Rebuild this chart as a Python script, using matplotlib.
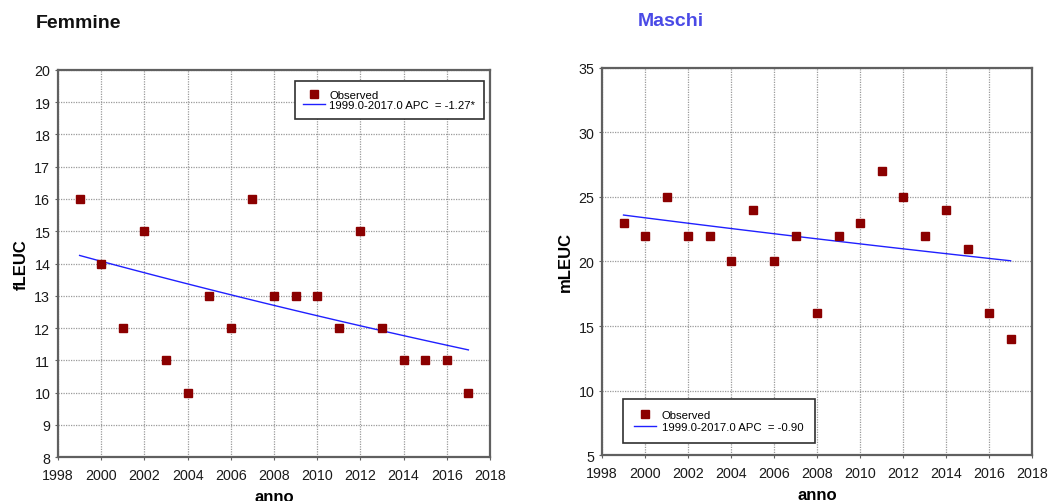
import matplotlib
matplotlib.use("Agg")
import matplotlib.pyplot as plt
import numpy as np

plt.rcParams['font.family'] = ['Liberation Sans', 'DejaVu Sans']

years = [1999, 2000, 2001, 2002, 2003, 2004, 2005, 2006, 2007, 2008,
         2009, 2010, 2011, 2012, 2013, 2014, 2015, 2016, 2017]
female = [16, 14, 12, 15, 11, 10, 13, 12, 16, 13, 13, 13, 12, 15, 12, 11, 11, 11, 10]
male = [23, 22, 25, 22, 22, 20, 24, 20, 22, 16, 22, 23, 27, 25, 22, 24, 21, 16, 14]

# fitted joinpoint model: start value at 1999 and annual percent change
female_fit_start, female_apc = 14.25, -1.27
male_fit_start, male_apc = 23.6, -0.90

female_label = "1999.0-2017.0 APC  = -1.27*"
male_label = "1999.0-2017.0 APC  = -0.90"

xticks = list(range(1998, 2019, 2))
female_yticks = list(range(8, 21))
male_yticks = list(range(5, 36, 5))

fig = plt.figure(figsize=(10.49, 5.02), dpi=100)
legend_font = {'family': ['Liberation Sans', 'DejaVu Sans'], 'size': 8.2}

def fit_curve(start, apc):
    t = np.linspace(years[0], years[-1], 50)
    return t, start * (1 + apc / 100.0) ** (t - years[0])

def setup(ax, yticks, ylim):
    ax.set_xlim(1998, 2018)
    ax.set_ylim(*ylim)
    ax.set_xticks(xticks)
    ax.set_yticks(yticks)
    ax.grid(True, color='#9a9a9a', linestyle=(0, (1, 1)), linewidth=0.9)
    ax.set_axisbelow(True)
    for s in ax.spines.values():
        s.set_color('#606060')
        s.set_linewidth(1.6)
    ax.tick_params(axis='x', pad=6)
    ax.tick_params(axis='both', labelsize=10.3, length=2, color='#606060',
                   labelcolor='#1a1a1a')
    ax.set_xlabel('anno', fontsize=12, fontweight='bold', labelpad=5)

# Female
ax1 = fig.add_axes([0.0553, 0.0876, 0.4118, 0.771])
setup(ax1, female_yticks, (8, 20))
ax1.plot(years, female, linestyle='none', marker='s', markersize=5.5,
         color='#8b0000', label='Observed', zorder=3)
t, f = fit_curve(female_fit_start, female_apc)
ax1.plot(t, f, color='#2020ff', linewidth=1.0, label=female_label, zorder=2)
ax1.set_ylabel('fLEUC', fontsize=12, fontweight='bold', labelpad=4)
leg1 = ax1.legend(loc='upper right', bbox_to_anchor=(0.986, 0.971), prop=legend_font,
                  frameon=True, fancybox=False, framealpha=1, edgecolor='#303030',
                  borderpad=0.75, handlelength=1.9, handletextpad=0.4, labelspacing=0.05,
                  borderaxespad=0)
leg1.get_frame().set_linewidth(1.2)
fig.text(0.034, 0.953, 'Femmine', fontsize=14, fontweight='bold', color='#111111',
         va='center', ha='left')

# Male
ax2 = fig.add_axes([0.5739, 0.0916, 0.410, 0.771])
setup(ax2, male_yticks, (5, 35))
ax2.plot(years, male, linestyle='none', marker='s', markersize=5.5,
         color='#8b0000', label='Observed', zorder=3)
t, m = fit_curve(male_fit_start, male_apc)
ax2.plot(t, m, color='#2020ff', linewidth=1.0, label=male_label, zorder=2)
ax2.set_ylabel('mLEUC', fontsize=12, fontweight='bold', labelpad=4)
leg2 = ax2.legend(loc='lower left', bbox_to_anchor=(0.049, 0.031), prop=legend_font,
                  frameon=True, fancybox=False, framealpha=1, edgecolor='#303030',
                  borderpad=1.0, handlelength=1.9, handletextpad=0.5, labelspacing=0.15,
                  borderaxespad=0)
leg2.get_frame().set_linewidth(1.2)
fig.text(0.608, 0.958, 'Maschi', fontsize=14, fontweight='bold', color='#4a4ae6',
         va='center', ha='left')

fig.savefig('out.png', dpi=100)
